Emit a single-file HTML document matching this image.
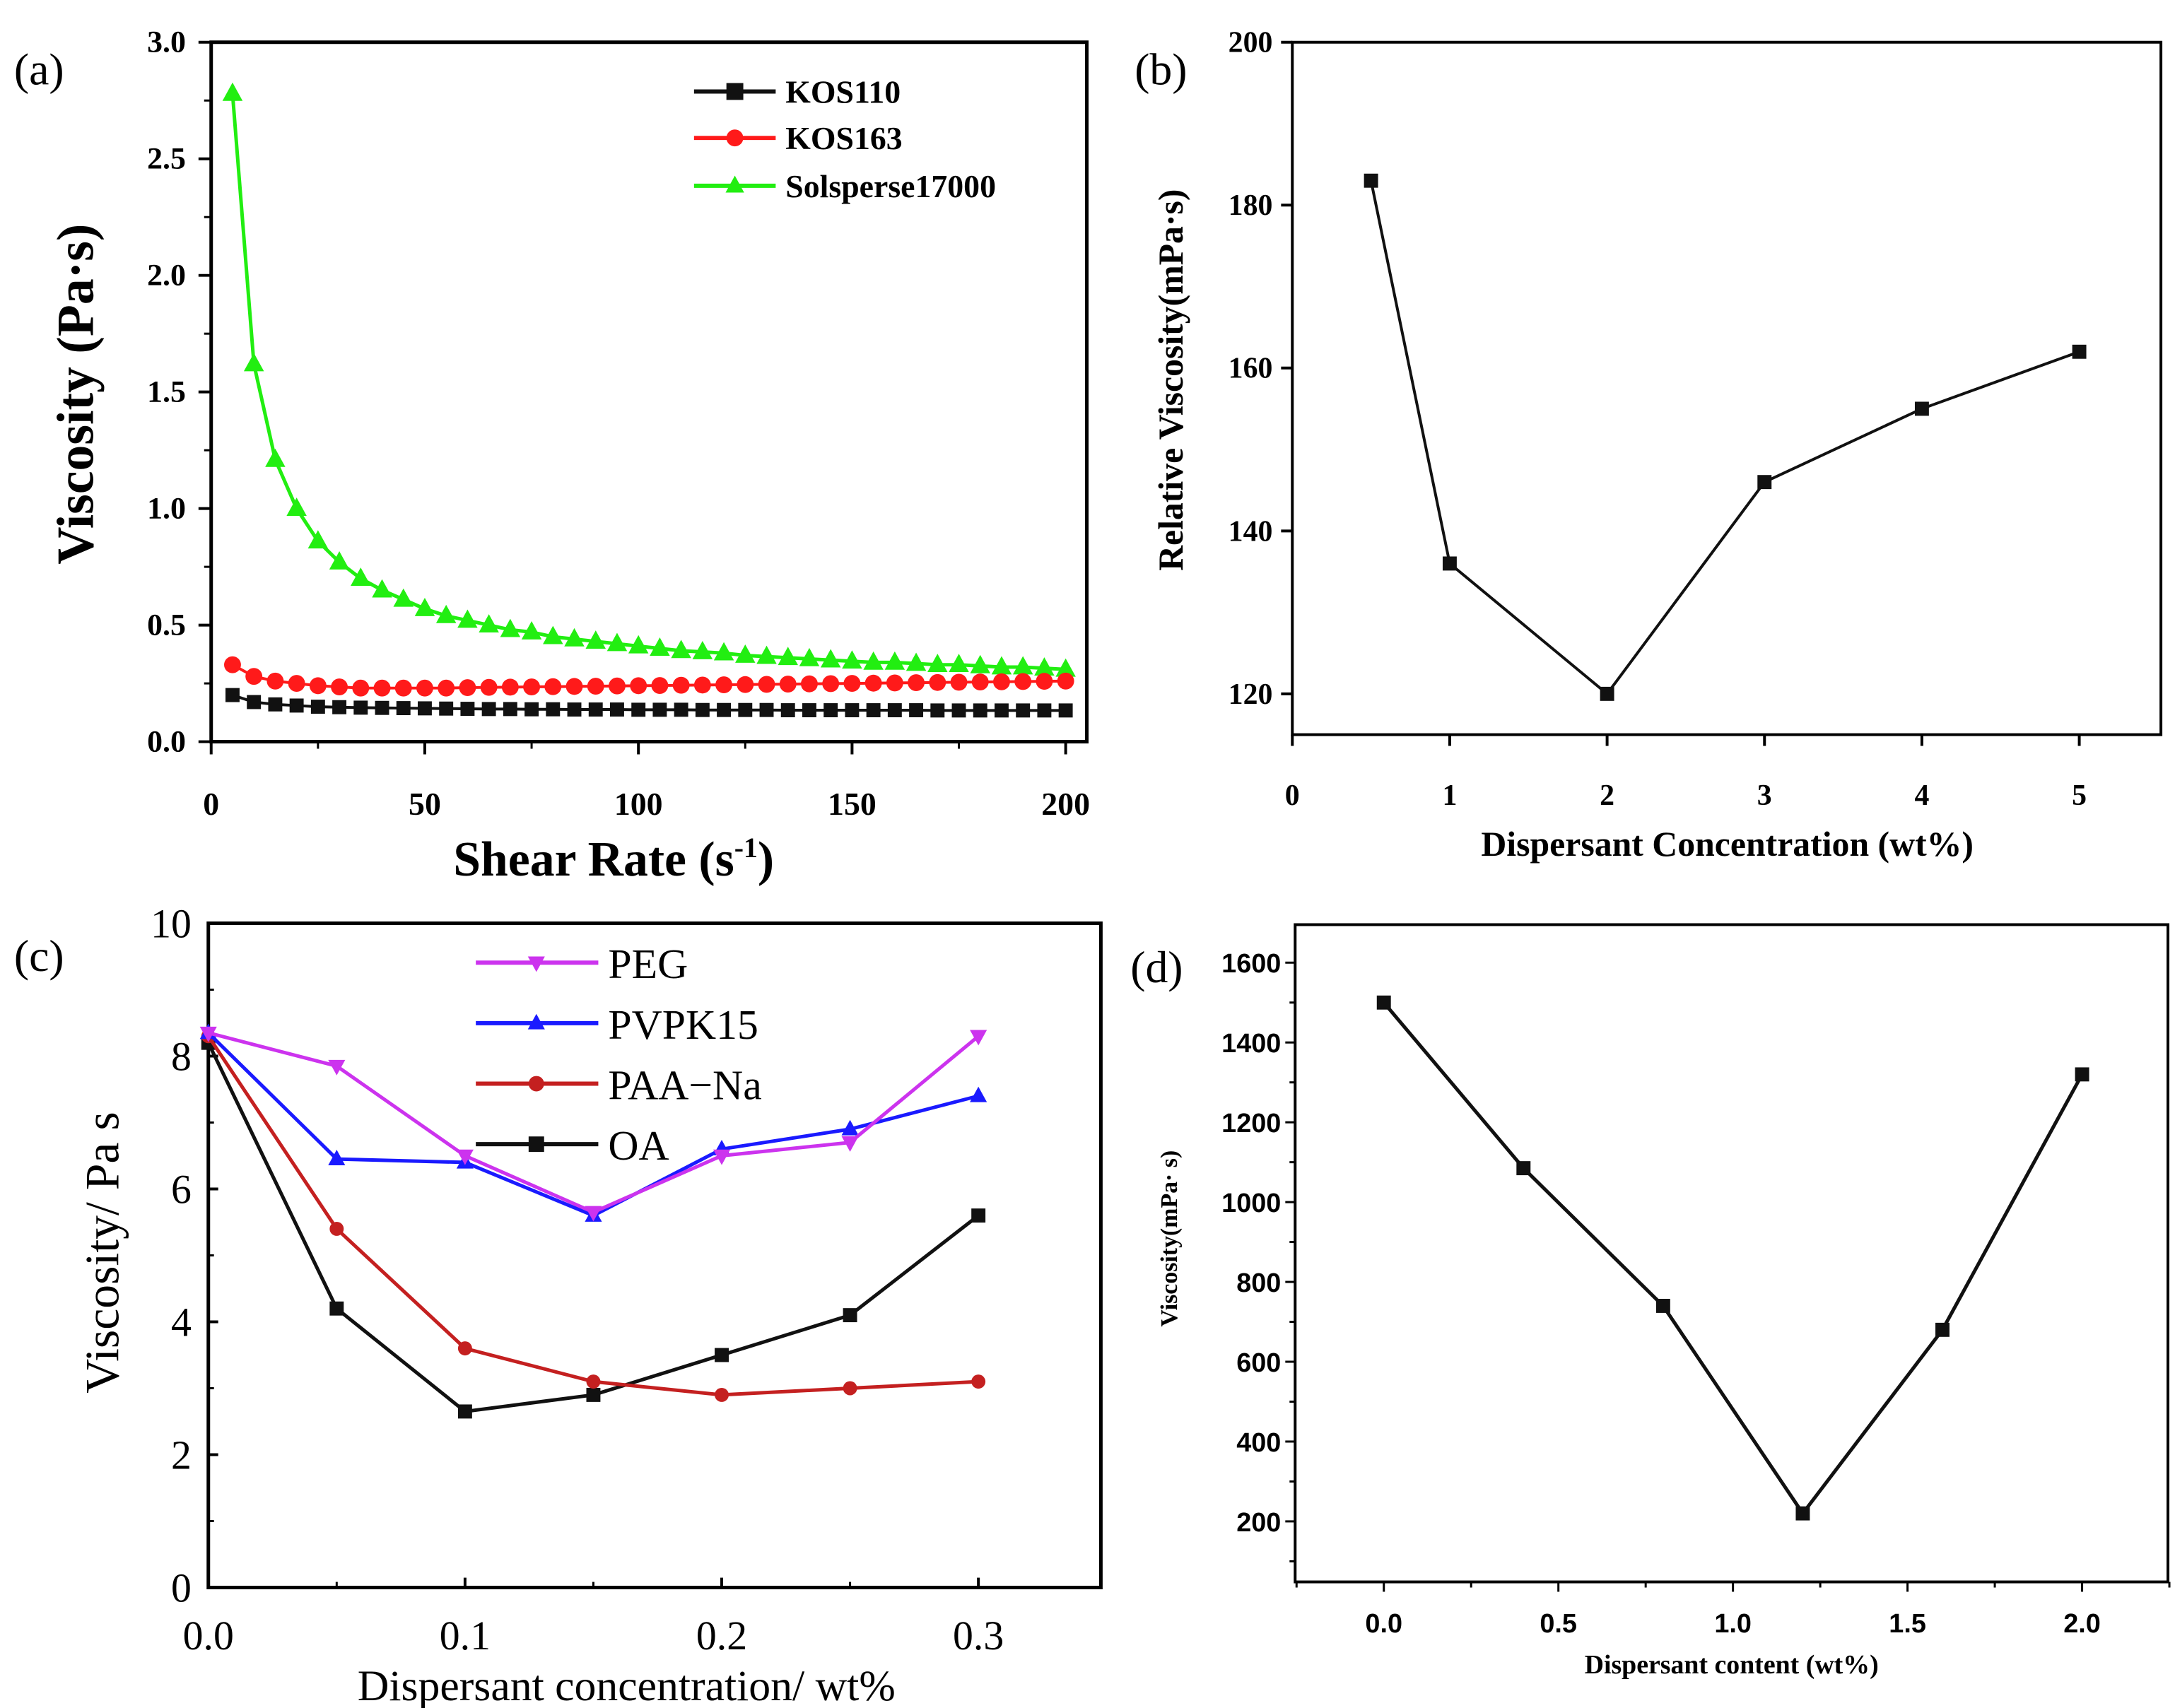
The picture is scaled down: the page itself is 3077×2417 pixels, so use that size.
<!DOCTYPE html>
<html><head><meta charset="utf-8">
<style>
html,body{margin:0;padding:0;background:#fff;}
svg{display:block;}
.serif{font-family:"Liberation Serif",serif;}
.sans{font-family:"Liberation Sans",sans-serif;}
</style></head>
<body>
<svg id="fig" width="3077" height="2417" viewBox="0 0 1545 1213.6" preserveAspectRatio="none" xmlns="http://www.w3.org/2000/svg">
<rect x="0" y="0" width="1545" height="1214" fill="#fff"/>
</svg>
<script>
// ---------- Panel (a) data ----------
const aShear = [5,10,15,20,25,30,35,40,45,50,55,60,65,70,75,80,85,90,95,100,105,110,115,120,125,130,135,140,145,150,155,160,165,170,175,180,185,190,195,200];
const aSol = [2.78,1.62,1.21,1.0,0.86,0.77,0.70,0.65,0.61,0.57,0.54,0.52,0.50,0.48,0.47,0.45,0.44,0.43,0.42,0.41,0.40,0.39,0.385,0.38,0.37,0.365,0.36,0.355,0.35,0.345,0.34,0.34,0.335,0.33,0.33,0.325,0.32,0.32,0.315,0.31];
const aK163 = [0.33,0.28,0.26,0.25,0.24,0.235,0.23,0.23,0.23,0.23,0.23,0.232,0.233,0.234,0.235,0.236,0.237,0.238,0.239,0.24,0.241,0.242,0.243,0.244,0.245,0.246,0.247,0.248,0.249,0.25,0.251,0.252,0.253,0.254,0.255,0.256,0.257,0.258,0.259,0.26];
const aK110 = [0.20,0.17,0.16,0.155,0.15,0.148,0.146,0.145,0.144,0.143,0.142,0.141,0.14,0.14,0.139,0.139,0.138,0.138,0.138,0.137,0.137,0.137,0.136,0.136,0.136,0.136,0.135,0.135,0.135,0.135,0.135,0.135,0.135,0.134,0.134,0.134,0.134,0.134,0.134,0.134];
const aXTicks = [0,50,100,150,200];
const aYTicks = [0.0,0.5,1.0,1.5,2.0,2.5,3.0];
// ---------- Panel (b) data ----------
const bConc = [0.5,1,2,3,4,5];
const bVisc = [183,136,120,146,155,162];
const bXTicks = [0,1,2,3,4,5];
const bYTicks = [120,140,160,180,200];
// ---------- Panel (c) data ----------
const cConc = [0,0.05,0.1,0.15,0.2,0.25,0.3];
const cPEG = [8.35,7.85,6.5,5.65,6.5,6.7,8.3];
const cPVP = [8.35,6.45,6.4,5.6,6.6,6.9,7.4];
const cPAA = [8.3,5.4,3.6,3.1,2.9,3.0,3.1];
const cOA = [8.2,4.2,2.65,2.9,3.5,4.1,5.6];
const cXTicks = [0.0,0.1,0.2,0.3];
const cYTicks = [0,2,4,6,8,10];
// ---------- Panel (d) data ----------
const dCont = [0,0.4,0.8,1.2,1.6,2.0];
const dVisc = [1500,1085,740,220,680,1320];
const dXTicks = [0.0,0.5,1.0,1.5,2.0];
const dYTicks = [200,400,600,800,1000,1200,1400,1600];

const NS='http://www.w3.org/2000/svg';
const svg=document.getElementById('fig');
function mk(tag,attrs,parent){const e=document.createElementNS(NS,tag);for(const k in attrs)e.setAttribute(k,attrs[k]);(parent||svg).appendChild(e);return e;}
function txt(s,attrs,parent){const e=mk('text',attrs,parent);e.textContent=s;return e;}
function lin(d0,d1,r0,r1){return v=>r0+(v-d0)*(r1-r0)/(d1-d0);}
function marker(g,shape,x,y,col,s){
  let e;
  if(shape==='sq') e=mk('rect',{x:x-s,y:y-s,width:2*s,height:2*s,fill:col},g);
  else if(shape==='ci') e=mk('circle',{cx:x,cy:y,r:s,fill:col},g);
  else if(shape==='up') e=mk('polygon',{points:`${x},${y-s*1.2} ${x-s*1.1},${y+s*0.8} ${x+s*1.1},${y+s*0.8}`,fill:col},g);
  else e=mk('polygon',{points:`${x},${y+s*1.2} ${x-s*1.1},${y-s*0.8} ${x+s*1.1},${y-s*0.8}`,fill:col},g);
  
  
  return e;
}
function series(g,xs,ys,X,Y,col,shape,s,name,lw){
  const sg=mk('g',{},g);
  
  
  const pts=xs.map((x,i)=>X(x)+','+Y(ys[i])).join(' ');
  mk('polyline',{points:pts,fill:'none',stroke:col,'stroke-width':lw},sg);
  xs.forEach((x,i)=>marker(sg,shape,X(x),Y(ys[i]),col,s));
}
function panel(name){const g=mk('g',{});return g;}
function frame(g,l,t,r,b,w){const f=mk('rect',{x:l,y:t,width:r-l,height:b-t,fill:'none',stroke:'#000','stroke-width':w},g);}

// ===== Panel (a) =====
{
const g=panel('panel-a');
const L=150,T=30,R=772,B=527;
const X=lin(0,200,150,757), Y=lin(0,3,527,30);
frame(g,L,T,R,B,2.5);
const ax=mk('g',{},g);


aXTicks.forEach(v=>{mk('line',{x1:X(v),y1:B,x2:X(v),y2:B+9,stroke:'#000','stroke-width':2},ax);
  txt(String(v),{x:X(v),y:B+52,'text-anchor':'middle',class:'serif','font-size':23,'font-weight':'bold'},ax);});
aXTicks.slice(0,-1).forEach(v=>mk('line',{x1:X(v+25),y1:B,x2:X(v+25),y2:B+5,stroke:'#000','stroke-width':1.5},ax));
const ay=mk('g',{},g);


aYTicks.forEach(v=>{mk('line',{x1:L,y1:Y(v),x2:L-9,y2:Y(v),stroke:'#000','stroke-width':2},ay);
  txt(v.toFixed(1),{x:L-18,y:Y(v)+7,'text-anchor':'end',class:'serif','font-size':22,'font-weight':'bold'},ay);});
aYTicks.slice(0,-1).forEach(v=>mk('line',{x1:L,y1:Y(v+0.25),x2:L-5,y2:Y(v+0.25),stroke:'#000','stroke-width':1.5},ay));
const yt=txt('Viscosity (Pa·s)',{x:0,y:0,transform:'translate(66,280) rotate(-90)','text-anchor':'middle',class:'serif','font-size':37,'font-weight':'bold'},g);

const xt=txt('Shear Rate (s',{x:322,y:622,class:'serif','font-size':35,'font-weight':'bold'},g);

const ts=mk('tspan',{dy:-13,'font-size':20},xt);ts.textContent='-1';
const ts2=mk('tspan',{dy:13},xt);ts2.textContent=')';
const pl=txt('(a)',{x:10,y:60,class:'serif','font-size':32},g);
series(g,aShear,aSol,X,Y,'#22ee11','up',6.5,'series-solsperse17000',2.5);
series(g,aShear,aK163,X,Y,'#ff1a1a','ci',6,'series-kos163',2);
series(g,aShear,aK110,X,Y,'#111','sq',5,'series-kos110',2);
const lg=mk('g',{},g);
[['KOS110','#111','sq',65],['KOS163','#ff1a1a','ci',98],['Solsperse17000','#22ee11','up',132]].forEach(([n,c,s,y])=>{
  const e=mk('g',{},lg);
  mk('line',{x1:493,y1:y,x2:551,y2:y,stroke:c,'stroke-width':3},e);marker(e,s,522,y,c,6);
  txt(n,{x:558,y:y+8,class:'serif','font-size':23,'font-weight':'bold'},e);});
}
// ===== Panel (b) =====
{
const g=panel('panel-b');
const L=918,T=30,R=1535,B=522;
const X=lin(0,5,918,1477), Y=lin(120,200,493,30);
frame(g,L,T,R,B,2);
const ax=mk('g',{},g);
bXTicks.forEach(v=>{mk('line',{x1:X(v),y1:B,x2:X(v),y2:B+8,stroke:'#000','stroke-width':2},ax);
  txt(String(v),{x:X(v),y:B+50,'text-anchor':'middle',class:'serif','font-size':21,'font-weight':'bold'},ax);});
const ay=mk('g',{},g);
bYTicks.forEach(v=>{mk('line',{x1:L,y1:Y(v),x2:L-8,y2:Y(v),stroke:'#000','stroke-width':2},ay);
  txt(String(v),{x:L-14,y:Y(v)+7,'text-anchor':'end',class:'serif','font-size':21,'font-weight':'bold'},ay);});
const yt=txt('Relative Viscosity(mPa·s)',{x:0,y:0,transform:'translate(840,270) rotate(-90)','text-anchor':'middle',class:'serif','font-size':25,'font-weight':'bold'},g);

const xt=txt('Dispersant Concentration (wt%)',{x:1227,y:608,'text-anchor':'middle',class:'serif','font-size':25,'font-weight':'bold'},g);

const pl=txt('(b)',{x:806,y:60,class:'serif','font-size':32},g);
series(g,bConc,bVisc,X,Y,'#111','sq',5,'series-relative-viscosity',2);
}
// ===== Panel (c) =====
{
const g=panel('panel-c');
const L=148,T=656,R=782,B=1128;
const X=lin(0,0.3,148,695), Y=lin(0,10,1128,656);
frame(g,L,T,R,B,2.5);
const ax=mk('g',{},g);
cXTicks.forEach(v=>{mk('line',{x1:X(v),y1:B,x2:X(v),y2:B-7,stroke:'#000','stroke-width':2},ax);
  txt(v.toFixed(1),{x:X(v),y:B+44,'text-anchor':'middle',class:'serif','font-size':29},ax);});
[0.05,0.15,0.25].forEach(v=>mk('line',{x1:X(v),y1:B,x2:X(v),y2:B-4,stroke:'#000','stroke-width':1.5},ax));
const ay=mk('g',{},g);
cYTicks.forEach(v=>{mk('line',{x1:L,y1:Y(v),x2:L+7,y2:Y(v),stroke:'#000','stroke-width':2},ay);
  txt(String(v),{x:L-12,y:Y(v)+10,'text-anchor':'end',class:'serif','font-size':29},ay);});
[1,3,5,7,9].forEach(v=>mk('line',{x1:L,y1:Y(v),x2:L+4,y2:Y(v),stroke:'#000','stroke-width':1.5},ay));
const yt=txt('Viscosity/ Pa s',{x:0,y:0,transform:'translate(84,890) rotate(-90)','text-anchor':'middle',class:'serif','font-size':34},g);

const xt=txt('Dispersant concentration/ wt%',{x:445,y:1208,'text-anchor':'middle',class:'serif','font-size':31},g);

const pl=txt('(c)',{x:10,y:690,class:'serif','font-size':32},g);
series(g,cConc,cOA,X,Y,'#111','sq',5,'series-oa',2.5);
series(g,cConc,cPAA,X,Y,'#c42020','ci',5,'series-paa-na',2.5);
series(g,cConc,cPVP,X,Y,'#1a1aff','up',5.5,'series-pvpk15',2.5);
series(g,cConc,cPEG,X,Y,'#cc33ee','dn',5.5,'series-peg',2.5);
const lg=mk('g',{},g);
[['PEG','#cc33ee','dn',684],['PVPK15','#1a1aff','up',727],['PAA\u2212Na','#c42020','ci',770],['OA','#111','sq',813]].forEach(([n,c,s,y])=>{
  const e=mk('g',{},lg);
  mk('line',{x1:338,y1:y,x2:425,y2:y,stroke:c,'stroke-width':3},e);marker(e,s,381,y,c,5.5);
  txt(n,{x:432,y:y+11,class:'serif','font-size':30},e);});
}
// ===== Panel (d) =====
{
const g=panel('panel-d');
const L=920,T=657,R=1540,B=1124;
const X=lin(0,2,983,1479), Y=lin(200,1600,1081,684);
frame(g,L,T,R,B,2);
const ax=mk('g',{},g);
dXTicks.forEach(v=>{mk('line',{x1:X(v),y1:B,x2:X(v),y2:B+7,stroke:'#000','stroke-width':1.5},ax);
  txt(v.toFixed(1),{x:X(v),y:B+36,'text-anchor':'middle',class:'sans','font-size':19,'font-weight':'bold'},ax);});
[-0.25,0.25,0.75,1.25,1.75,2.25].forEach(v=>mk('line',{x1:X(v),y1:B,x2:X(v),y2:B+4,stroke:'#000','stroke-width':1.5},ax));
const ay=mk('g',{},g);
dYTicks.forEach(v=>{mk('line',{x1:L,y1:Y(v),x2:L-7,y2:Y(v),stroke:'#000','stroke-width':1.5},ay);
  txt(String(v),{x:L-10,y:Y(v)+7,'text-anchor':'end',class:'sans','font-size':19,'font-weight':'bold'},ay);});
[100,300,500,700,900,1100,1300,1500].forEach(v=>mk('line',{x1:L,y1:Y(v),x2:L-4,y2:Y(v),stroke:'#000','stroke-width':1.5},ay));
const yt=txt('Viscosity(mPa· s)',{x:0,y:0,transform:'translate(836,880) rotate(-90)','text-anchor':'middle',class:'serif','font-size':17,'font-weight':'bold'},g);

const xt=txt('Dispersant content (wt%)',{x:1230,y:1189,'text-anchor':'middle',class:'serif','font-size':19,'font-weight':'bold'},g);

const pl=txt('(d)',{x:803,y:698,class:'serif','font-size':32},g);
series(g,dCont,dVisc,X,Y,'#111','sq',5,'series-viscosity',2.5);
}
</script>
</body></html>
